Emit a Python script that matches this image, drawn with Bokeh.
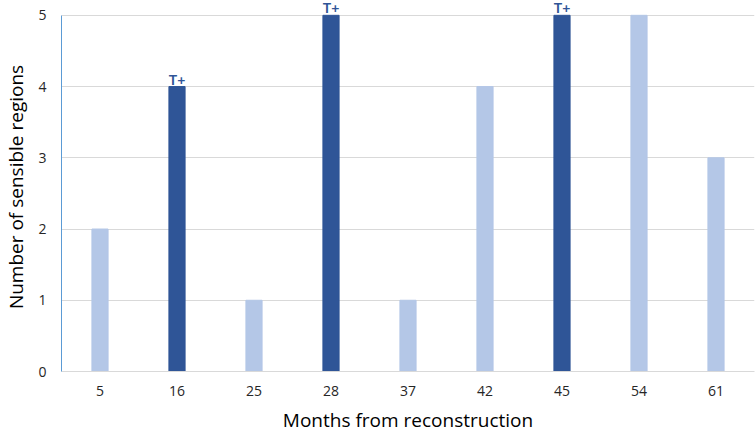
from bokeh.plotting import figure
from bokeh.models import ColumnDataSource, Range1d, FixedTicker
from bokeh.core.properties import value
from bokeh.embed import file_html
from bokeh.resources import INLINE

months = ["5", "16", "25", "28", "37", "42", "45", "54", "61"]
regions = [2, 4, 1, 5, 1, 4, 5, 5, 3]
tplus = [False, True, False, True, False, False, True, False, False]

DARK = "#2F5597"
LIGHT = "#B4C7E7"
colors = [DARK if t else LIGHT for t in tplus]

src = ColumnDataSource(data=dict(x=months, y=regions, color=colors))
tsrc = ColumnDataSource(data=dict(
    x=[m for m, t in zip(months, tplus) if t],
    y=[r for r, t in zip(regions, tplus) if t],
    lab=["T+" for t in tplus if t]))

p = figure(x_range=months, width=756, height=435, output_backend="svg",
           toolbar_location=None, min_border_left=61, min_border_right=2,
           min_border_top=2, min_border_bottom=64)
p.y_range = Range1d(0, 5.18)

p.vbar(x="x", top="y", width=0.21, color="color", source=src)

p.text(x="x", y="y", text="lab", source=tsrc, text_align="center",
       text_baseline="bottom", text_color=DARK, text_font=value("Lato"),
       text_font_size="14px", text_font_style="bold", y_offset=1)

p.outline_line_color = None
p.xgrid.grid_line_color = None
p.ygrid.grid_line_color = "#D9D9D9"
p.ygrid.grid_line_width = 1
p.yaxis.ticker = FixedTicker(ticks=[0, 1, 2, 3, 4, 5])
p.yaxis.bounds = (0, 5)

for ax in (p.xaxis, p.yaxis):
    ax.major_tick_line_color = None
    ax.minor_tick_line_color = None
    ax.major_label_text_font = "Open Sans"
    ax.major_label_text_font_size = "14px"
    ax.major_label_text_color = "#262626"
    ax.axis_label_text_font = "Open Sans"
    ax.axis_label_text_font_size = "19px"
    ax.axis_label_text_font_style = "normal"
    ax.axis_label_text_color = "#000000"

p.xaxis.axis_label = "Months from reconstruction"
p.yaxis.axis_label = "Number of sensible regions"
p.xaxis.axis_line_color = "#D9D9D9"
p.yaxis.axis_line_color = "#5B9BD5"
p.xaxis.major_label_standoff = 8
p.xaxis.axis_label_standoff = 8
p.yaxis.major_label_standoff = 9
p.yaxis.axis_label_standoff = 6
p.x_range.range_padding = 0

open("out.html", "w").write(file_html(p, INLINE))
